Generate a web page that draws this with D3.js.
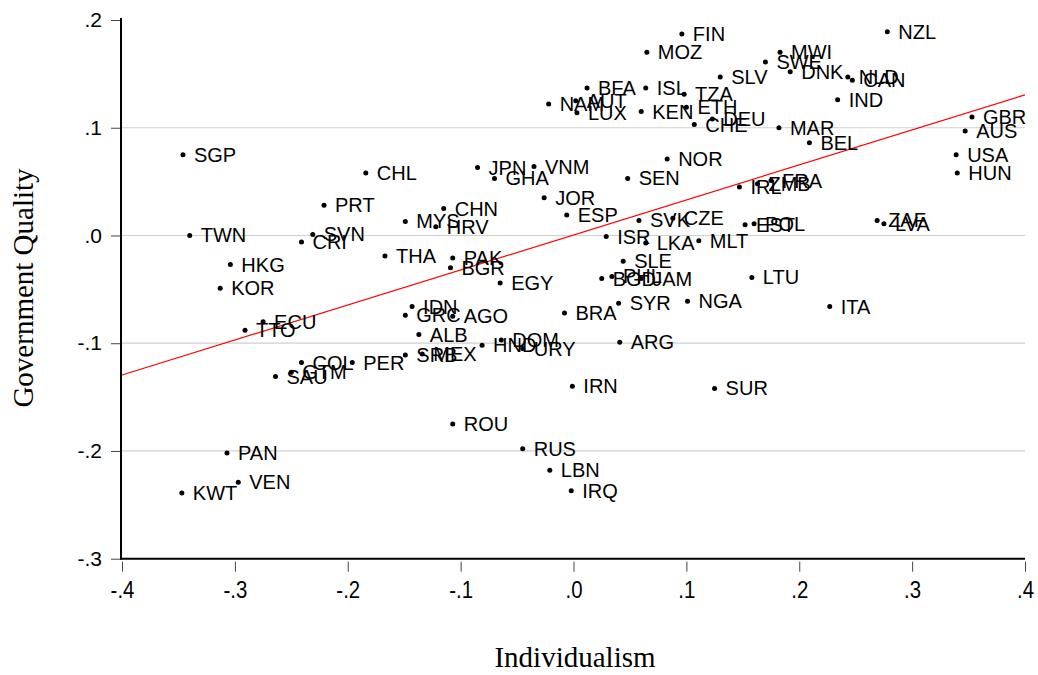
<!DOCTYPE html>
<html>
<head>
<meta charset="utf-8">
<script src="https://cdn.jsdelivr.net/npm/d3@7"></script>
<style>
  body { margin: 0; background: #fff; }
  svg { display: block; }
  .tick text { font-family: "Liberation Sans", Arial, sans-serif; fill: #000; }
  .lbl { font-family: "Liberation Sans", Arial, sans-serif; font-size: 20px; fill: #000; }
  .title { font-family: "Liberation Serif", "Times New Roman", serif; font-size: 29px; fill: #000; }
</style>
</head>
<body>
<svg id="canvas" width="1038" height="675"></svg>
<script>
// country codes, individualism (x) and government quality (y)
const codes = [
  "SGP", "CHL", "PRT", "TWN", "SVN", "CRI", "MYS", "CHN", "HRV", "THA",
  "HKG", "KOR", "ECU", "TTO", "COL", "PER", "GTM", "SAU", "PAN", "VEN",
  "KWT", "JPN", "VNM", "GHA", "JOR", "ESP", "PAK", "BGR", "EGY", "IDN",
  "GRC", "AGO", "ALB", "SRB", "MEX", "HND", "DOM", "URY", "BRA", "ROU",
  "RUS", "LBN", "IRQ", "IRN", "SUR", "ISR", "SVK", "CZE", "LKA", "MLT",
  "SLE", "BGD", "PHL", "JAM", "SYR", "NGA", "ARG", "LTU", "ITA", "EST",
  "POL", "ZAF", "LVA", "IRL", "ZMB", "FRA", "NOR", "SEN", "USA", "HUN",
  "GBR", "AUS", "BEL", "MAR", "IND", "CHE", "DEU", "ETH", "KEN", "LUX",
  "AUT", "NAM", "BFA", "ISL", "TZA", "SLV", "MOZ", "FIN", "NZL", "MWI",
  "SWE", "DNK", "NLD", "CAN"
];
const individualism = [
  -0.346, -0.184, -0.221, -0.340, -0.231, -0.241, -0.149, -0.115, -0.122, -0.167,
  -0.304, -0.313, -0.275, -0.291, -0.241, -0.196, -0.250, -0.264, -0.307, -0.297,
  -0.347, -0.085, -0.035, -0.070, -0.026, -0.006, -0.107, -0.109, -0.065, -0.143,
  -0.149, -0.107, -0.137, -0.149, -0.134, -0.081, -0.064, -0.045, -0.008, -0.107,
  -0.045, -0.021, -0.002, -0.001, 0.125, 0.029, 0.058, 0.088, 0.064, 0.111,
  0.044, 0.025, 0.034, 0.060, 0.040, 0.101, 0.041, 0.158, 0.227, 0.152,
  0.160, 0.269, 0.275, 0.147, 0.163, 0.175, 0.083, 0.048, 0.339, 0.340,
  0.353, 0.347, 0.209, 0.182, 0.234, 0.107, 0.123, 0.100, 0.060, 0.003,
  0.002, -0.022, 0.012, 0.064, 0.098, 0.130, 0.065, 0.096, 0.278, 0.183,
  0.170, 0.192, 0.243, 0.247
];
const quality = [
  0.075, 0.058, 0.028, 0.000, 0.001, -0.006, 0.013, 0.025, 0.008, -0.019,
  -0.027, -0.049, -0.080, -0.088, -0.118, -0.118, -0.127, -0.131, -0.202, -0.229,
  -0.239, 0.063, 0.064, 0.053, 0.035, 0.019, -0.021, -0.030, -0.044, -0.066,
  -0.074, -0.075, -0.092, -0.111, -0.110, -0.102, -0.097, -0.105, -0.072, -0.175,
  -0.198, -0.218, -0.237, -0.140, -0.142, -0.001, 0.014, 0.016, -0.007, -0.005,
  -0.024, -0.040, -0.038, -0.040, -0.063, -0.061, -0.099, -0.039, -0.066, 0.010,
  0.011, 0.014, 0.011, 0.045, 0.048, 0.051, 0.071, 0.053, 0.075, 0.058,
  0.110, 0.097, 0.086, 0.100, 0.126, 0.103, 0.108, 0.119, 0.115, 0.114,
  0.125, 0.122, 0.137, 0.137, 0.131, 0.147, 0.170, 0.187, 0.189, 0.170,
  0.161, 0.152, 0.147, 0.144
];

// fitted line: quality = a + b * individualism
const fitA = 0.0005, fitB = 0.325;

const xTicks = [-0.4, -0.3, -0.2, -0.1, 0, 0.1, 0.2, 0.3, 0.4];
const yTicks = [-0.3, -0.2, -0.1, 0, 0.1, 0.2];
const gridTicks = [-0.2, -0.1, 0, 0.1];

// Stata style: ".2", "-.1" with a plain hyphen
const fmt = d => d.toFixed(1).replace("0.", ".");

const svg = d3.select("#canvas");

const x = d3.scaleLinear().domain([-0.4, 0.4]).range([122, 1025]);
const y = d3.scaleLinear().domain([-0.3, 0.2]).range([558.7, 20]);

// gridlines
svg.append("g")
  .selectAll("line")
  .data(gridTicks)
  .join("line")
  .attr("x1", x(-0.4))
  .attr("x2", x(0.4))
  .attr("y1", d => y(d))
  .attr("y2", d => y(d))
  .attr("stroke", "#cfcfcf")
  .attr("stroke-width", 1.2);

// axes
const xAxis = svg.append("g")
  .attr("transform", `translate(0,${y(-0.3) + 3})`)
  .call(d3.axisBottom(x).tickValues(xTicks).tickFormat(fmt).tickSize(10).tickPadding(9).tickSizeOuter(0));
xAxis.select(".domain").remove();
xAxis.selectAll(".tick line").attr("stroke", "#444");
xAxis.selectAll(".tick text")
  .attr("font-size", 24)
  .attr("transform", "scale(0.85,1)");

const yAxis = svg.append("g")
  .attr("transform", `translate(${x(-0.4) - 2},0)`)
  .call(d3.axisLeft(y).tickValues(yTicks).tickFormat(fmt).tickSize(9).tickPadding(9).tickSizeOuter(0));
yAxis.select(".domain").remove();
yAxis.selectAll(".tick line").attr("stroke", "#444");
yAxis.selectAll(".tick text").attr("font-size", 21);

// axis lines
svg.append("line")
  .attr("x1", x(-0.4) - 1).attr("x2", x(-0.4) - 1)
  .attr("y1", y(0.2) - 2).attr("y2", y(-0.3) + 1)
  .attr("stroke", "#000").attr("stroke-width", 2);
svg.append("line")
  .attr("x1", x(-0.4) - 2).attr("x2", x(0.4))
  .attr("y1", y(-0.3)).attr("y2", y(-0.3))
  .attr("stroke", "#000").attr("stroke-width", 2);

// fit line
svg.append("line")
  .attr("x1", x(-0.4)).attr("y1", y(fitA + fitB * -0.4))
  .attr("x2", x(0.4)).attr("y2", y(fitA + fitB * 0.4))
  .attr("stroke", "#ff0000").attr("stroke-width", 1.2);

const pts = codes.map((c, i) => ({ code: c, ind: individualism[i], gq: quality[i] }));

svg.append("g")
  .selectAll("circle")
  .data(pts)
  .join("circle")
  .attr("cx", d => x(d.ind))
  .attr("cy", d => y(d.gq))
  .attr("r", 2.5)
  .attr("fill", "#000");

svg.append("g")
  .selectAll("text")
  .data(pts)
  .join("text")
  .attr("class", "lbl")
  .attr("x", d => x(d.ind) + 11)
  .attr("y", d => y(d.gq) + 7)
  .text(d => d.code);

// titles
svg.append("text")
  .attr("class", "title")
  .attr("x", 575)
  .attr("y", 667)
  .attr("text-anchor", "middle")
  .text("Individualism");

svg.append("text")
  .attr("class", "title")
  .attr("transform", "translate(33,288) rotate(-90)")
  .attr("text-anchor", "middle")
  .text("Government Quality");
</script>
</body>
</html>
